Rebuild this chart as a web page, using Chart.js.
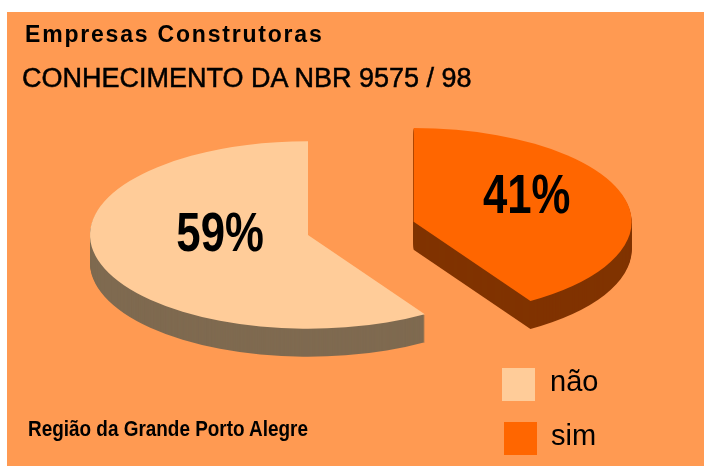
<!DOCTYPE html>
<html lang="pt">
<head>
<meta charset="utf-8">
<title>Conhecimento da NBR 9575 / 98</title>
<script src="https://cdn.jsdelivr.net/npm/chart.js@4/dist/chart.umd.min.js"></script>
<style>
  html, body { margin: 0; padding: 0; background: #fff; }
  #stage { position: relative; width: 704px; height: 466px; overflow: hidden; font-family: "Liberation Sans", Arial, sans-serif; color: #000; }
  #panel { position: absolute; left: 7px; top: 12px; right: 0; bottom: 0; background: #FF9A52; }
  #chart-wrap { position: absolute; left: 0; top: 0; width: 704px; height: 466px; }
  .txt { position: absolute; white-space: nowrap; line-height: 1; }
  #title1 { left: 25px; top: 23px; font-size: 23px; font-weight: bold; letter-spacing: 1.8px; }
  #title2 { left: 22px; top: 65px; font-size: 27px; -webkit-text-stroke: 0.5px #000; }
  #note { left: 28px; top: 418px; font-size: 22px; font-weight: bold; transform: scaleX(0.86); transform-origin: left top; }
  .lg-box { position: absolute; width: 33px; height: 33px; }
  .lg-txt { position: absolute; font-size: 29px; line-height: 1; white-space: nowrap; }
</style>
</head>
<body>
<div id="stage">
  <div id="panel"></div>
  <div id="chart-wrap"><canvas id="pie"></canvas></div>
  <div class="txt" id="title1">Empresas Construtoras</div>
  <div class="txt" id="title2">CONHECIMENTO DA NBR 9575 / 98</div>
  <div class="txt" id="note">Região da Grande Porto Alegre</div>
  <div id="legend"></div>
</div>
<script>
'use strict';

/* ── Data ─────────────────────────────────────────────── */
const CATEGORIES = ['não', 'sim'];
const VALUES     = [59, 41];

/* ── Style ────────────────────────────────────────────── */
const TOP_COLORS  = ['#FFCC99', '#FF6600'];
const SIDE_COLORS = ['#7F6A50', '#803300'];
const EXPLODE     = [0, 110];       // px pulled out along the slice bisector
const LABEL_R     = [0.42, 0.54];   // label distance, fraction of radius
const LABEL_LIFT  = 15;
const RADIUS      = 218;
const TILT        = 0.43;           // vertical squash of the pie
const DEPTH       = 28;

const total = VALUES.reduce((a, b) => a + b, 0);

/* ── 3D pie drawing ───────────────────────────────────── */
const pie3d = {
  id: 'pie3d',
  beforeDatasetsDraw(chart) {
    const ctx  = chart.ctx;
    const arcs = chart.getDatasetMeta(0).data;

    arcs.forEach((arc, i) => {
      const { x, y, startAngle, endAngle, outerRadius } =
        arc.getProps(['x', 'y', 'startAngle', 'endAngle', 'outerRadius'], true);
      const mid = (startAngle + endAngle) / 2;
      const cx  = x + Math.cos(mid) * EXPLODE[i];
      const cy  = y + Math.sin(mid) * EXPLODE[i] * TILT;

      const slice = dy => {
        ctx.beginPath();
        ctx.moveTo(cx, cy + dy);
        ctx.ellipse(cx, cy + dy, outerRadius, outerRadius * TILT, 0, startAngle, endAngle);
        ctx.closePath();
        ctx.fill();
      };

      ctx.save();
      ctx.fillStyle = SIDE_COLORS[i];
      for (let d = DEPTH; d >= 1; d--) slice(d);
      ctx.fillStyle = TOP_COLORS[i];
      slice(0);
      ctx.restore();
    });

    // percentage labels
    arcs.forEach((arc, i) => {
      const { x, y, startAngle, endAngle, outerRadius } =
        arc.getProps(['x', 'y', 'startAngle', 'endAngle', 'outerRadius'], true);
      const mid = (startAngle + endAngle) / 2;
      const r   = EXPLODE[i] + LABEL_R[i] * outerRadius;
      const lx  = x + Math.cos(mid) * r;
      const ly  = y + Math.sin(mid) * r * TILT - LABEL_LIFT;
      const txt = Math.round(VALUES[i] / total * 100) + '%';

      ctx.save();
      ctx.font = 'bold 56px "Liberation Sans", Arial, sans-serif';
      ctx.fillStyle = '#000';
      ctx.textAlign = 'center';
      ctx.textBaseline = 'alphabetic';
      ctx.translate(lx, ly + 20);
      ctx.scale(0.78, 1);
      ctx.fillText(txt, 0, 0);
      ctx.restore();
    });

    return false;
  }
};

/* ── Chart ────────────────────────────────────────────── */
new Chart(document.getElementById('pie'), {
  type: 'pie',
  data: {
    labels: CATEGORIES,
    datasets: [{
      data: VALUES,
      backgroundColor: TOP_COLORS,
      borderWidth: 0,
    }]
  },
  options: {
    responsive: true,
    maintainAspectRatio: false,
    animation: false,
    events: [],
    radius: RADIUS,
    rotation: 360 * VALUES[1] / total,
    layout: { padding: { top: 4, right: 88 } },
    plugins: {
      legend: { display: false },
      tooltip: { enabled: false },
    }
  },
  plugins: [pie3d]
});

/* ── Legend ───────────────────────────────────────────── */
const LEGEND_BOX = [{ left: 502, top: 368 }, { left: 504, top: 422 }];
const LEGEND_TXT = [{ left: 550, top: 367 }, { left: 551, top: 421 }];
const legend = document.getElementById('legend');
CATEGORIES.forEach((c, i) => {
  const box = document.createElement('div');
  box.className = 'lg-box';
  box.style.left = LEGEND_BOX[i].left + 'px';
  box.style.top  = LEGEND_BOX[i].top + 'px';
  box.style.background = TOP_COLORS[i];
  legend.appendChild(box);

  const t = document.createElement('div');
  t.className = 'lg-txt';
  t.style.left = LEGEND_TXT[i].left + 'px';
  t.style.top  = LEGEND_TXT[i].top + 'px';
  t.textContent = c;
  legend.appendChild(t);
});
</script>
</body>
</html>
